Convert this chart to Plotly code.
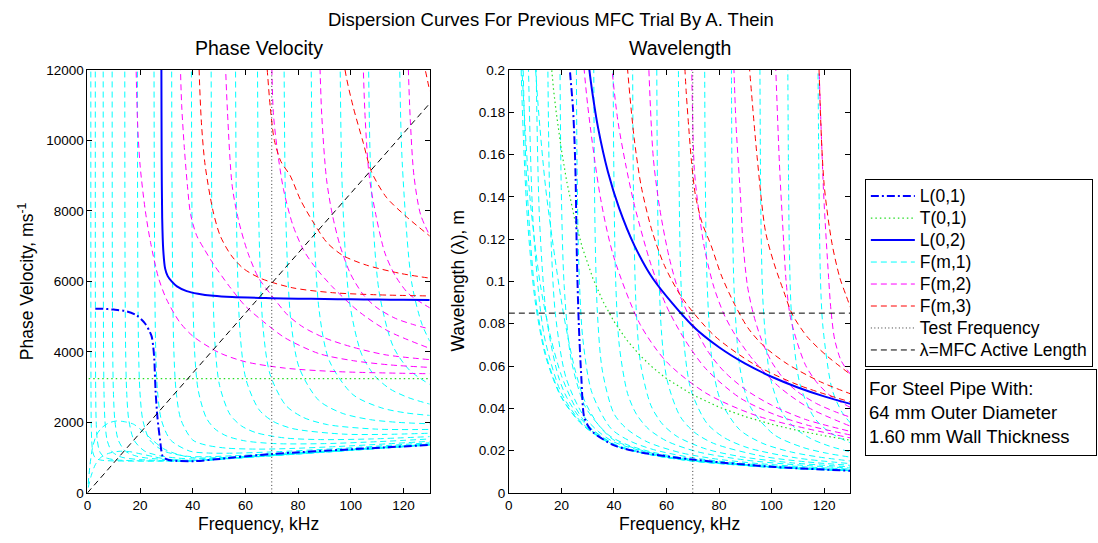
import plotly.graph_objects as go

# ---------------- data (frequency in kHz, phase velocity in m/s) ----------------
# L(0,1)
l01_f = [3.0, 5.0, 10.0, 15.0, 18.7, 21.9, 23.5, 24.4, 25.0, 25.4, 25.9, 26.6, 27.6, 28.6, 30.0, 32.0, 40.3, 50.4, 70.0, 101.0, 130.0]
l01_v = [5225, 5225, 5200, 5150, 5036, 4806, 4600, 4440, 4150, 3796, 2877, 2141, 1498, 1038, 960, 919, 900, 965, 1103, 1240, 1360]
# T(0,1)
t01_f = [0.5, 1, 2, 4, 8, 12, 14, 16, 17, 18, 20, 22, 25, 28, 32, 36, 40, 45, 50, 55, 60, 70, 80, 90, 100, 110, 120, 130]
t01_v = [3244] * len(t01_f)
# L(0,2)
l02_f = [27.95, 28.1, 28.2, 28.4, 28.8, 29.5, 30.5, 32.0, 34.0, 37.7, 42.0, 47.8, 55.0, 70.0, 80.0, 90.0, 100.0, 110.0, 120.0, 130.0]
l02_v = [14000, 12000, 9500, 7800, 6900, 6370, 6150, 6000, 5860, 5725, 5650, 5590, 5555, 5525, 5510, 5500, 5492, 5485, 5478, 5470]

# F(m,1) family
f1_h1_f = [0.3, 1.0, 2.0, 3.5, 5.5, 8.0, 11.0, 14.0, 17.5, 21.0, 25.0, 29.0, 34.0, 40.0, 60.0, 90.0, 130.0]
f1_h1_v = [250, 800, 1300, 1650, 1850, 1980, 2040, 2020, 1950, 1750, 1480, 1250, 1100, 1000, 1030, 1185, 1375]
f1_h2_f = [0.3, 1.5, 3.0, 5.0, 8.0, 12.0, 16.0, 20.0, 25.0, 30.0, 40.0, 60.0, 90.0, 130.0]
f1_h2_v = [150, 500, 800, 1000, 1120, 1180, 1170, 1110, 1030, 960, 920, 1010, 1170, 1365]
f1_c01_f = [1.297, 1.3, 1.309, 1.33, 1.365, 1.44, 1.62, 1.99, 2.59, 3.5, 5.0, 7.0, 10.0, 14.0, 20.0, 28.0, 40.0, 55.0, 70.0, 100.0, 130.0]
f1_c01_v = [25000, 12000, 6381, 4050, 2880, 2065, 1500, 1184, 1040, 969, 932, 916, 908, 904, 901, 901, 900, 977, 1053, 1206, 1359]
f1_c03_f = [2.993, 3.0, 3.02, 3.07, 3.15, 3.32, 3.74, 4.6, 5.98, 7.0, 10.0, 14.0, 20.0, 28.0, 40.0, 55.0, 70.0, 100.0, 130.0]
f1_c03_v = [25000, 12000, 6381, 4050, 2880, 2065, 1500, 1184, 1040, 995, 943, 921, 910, 905, 902, 978, 1054, 1207, 1360]
f1_c06_f = [5.99, 6.0, 6.04, 6.14, 6.3, 6.65, 7.48, 9.2, 11.96, 14.0, 20.0, 28.0, 40.0, 55.0, 70.0, 100.0, 130.0]
f1_c06_v = [25000, 12000, 6381, 4050, 2880, 2065, 1500, 1184, 1040, 995, 943, 921, 910, 983, 1058, 1210, 1362]
f1_c09_f = [9.38, 9.4, 9.47, 9.61, 9.87, 10.42, 11.72, 14.42, 18.74, 22.0, 28.0, 40.0, 55.0, 70.0, 100.0, 130.0]
f1_c09_v = [25000, 12000, 6381, 4050, 2880, 2065, 1500, 1184, 1040, 995, 955, 926, 994, 1066, 1216, 1367]
f1_c14_f = [14.17, 14.2, 14.3, 14.52, 14.91, 15.73, 17.7, 21.78, 28.3, 34.0, 40.0, 55.0, 70.0, 100.0, 130.0]
f1_c14_v = [25000, 12000, 6381, 4050, 2880, 2065, 1500, 1184, 1040, 990, 962, 1017, 1084, 1228, 1378]
f1_c19_f = [18.96, 19.0, 19.14, 19.43, 19.94, 21.05, 23.68, 29.15, 37.9, 45.0, 55.0, 70.0, 100.0, 130.0]
f1_c19_v = [25000, 12000, 6381, 4050, 2880, 2065, 1500, 1184, 1040, 1026, 1053, 1110, 1247, 1393]
f1_c25_f = [25.25, 25.3, 25.56, 25.95, 26.63, 28.11, 31.6, 38.9, 46.0, 55.0, 70.0, 95.0, 130.0]
f1_c25_v = [25000, 12000, 6381, 4050, 2880, 2065, 1500, 1184, 1131, 1127, 1162, 1258, 1422]
f1_c32_f = [31.93, 32.0, 32.33, 32.82, 33.69, 35.56, 40.0, 45.0, 52.8, 65.0, 77.7, 95.0, 113.2, 130.0]
f1_c32_v = [25000, 12000, 6381, 4050, 2880, 2065, 1500, 1357, 1270, 1242, 1261, 1316, 1389, 1464]
f1_c39_f = [39.41, 39.5, 39.9, 40.67, 42.07, 45.18, 48.5, 53.0, 60.0, 71.7, 90.0, 110.6, 130.0]
f1_c39_v = [25000, 12000, 6381, 4064, 2914, 2125, 1811, 1611, 1473, 1397, 1398, 1455, 1530]
f1_c47_f = [46.85, 46.99, 47.45, 48.43, 50.18, 54.1, 58.5, 64.1, 75.0, 88.6, 108.0, 130.0]
f1_c47_v = [25000, 12000, 6656, 4248, 3050, 2232, 1900, 1707, 1558, 1512, 1531, 1597]
f1_c56_f = [56.06, 56.26, 56.8, 58.04, 60.25, 65.2, 70.5, 78.0, 97.1, 113.0, 130.0]
f1_c56_v = [25000, 12000, 6989, 4464, 3210, 2359, 2030, 1823, 1668, 1660, 1693]
f1_c64_f = [64.33, 64.6, 65.22, 66.72, 69.37, 75.38, 82.0, 91.18, 109.45, 130.0]
f1_c64_v = [25000, 12000, 7302, 4669, 3363, 2481, 2141, 1937, 1810, 1800]
f1_c74_f = [74.34, 74.7, 75.4, 77.23, 80.46, 87.83, 96.73, 107.53, 118.0, 130.0]
f1_c74_v = [25000, 12000, 7669, 4910, 3545, 2627, 2260, 2077, 2001, 1960]
f1_c85_f = [84.54, 85.0, 85.81, 88.0, 91.9, 100.9, 111.8, 121.0, 130.0]
f1_c85_v = [25000, 12000, 8073, 5175, 3743, 2784, 2409, 2269, 2198]
f1_c96_f = [95.39, 96.0, 96.86, 99.5, 104.1, 109.0, 114.9, 122.0, 130.0]
f1_c96_v = [25000, 12000, 8465, 5434, 3939, 3331, 2950, 2700, 2520]
f1_c107_f = [106.04, 106.8, 107.7, 110.8, 116.2, 122.3, 130.0]
f1_c107_v = [25000, 12000, 8863, 5697, 4141, 3484, 3076]
f1_c118_f = [117.6, 118.6, 119.6, 123.1, 126.9, 130.0]
f1_c118_v = [25000, 12000, 9302, 5985, 4818, 4300]

# F(m,2) family
f2_a_f = [18.2, 18.4, 19.0, 20.0, 22.0, 24.0, 27.0, 30.0, 35.0, 40.0, 50.0, 60.0, 75.0, 95.0, 130.0]
f2_a_v = [14500, 12500, 10600, 9300, 8000, 7100, 6100, 5500, 4850, 4450, 3980, 3720, 3540, 3440, 3380]
f2_b_f = [34.9, 35.2, 35.8, 36.8, 38.0, 39.2, 41.5, 44.5, 47.8, 54.0, 60.0, 67.0, 75.0, 88.0, 101.0, 115.0, 130.0]
f2_b_v = [15000, 12500, 11000, 9800, 8700, 7900, 7300, 6900, 6500, 5850, 5300, 4850, 4400, 3950, 3750, 3630, 3560]
f2_c_f = [51.8, 52.3, 53.2, 55.0, 57.5, 61.0, 65.0, 70.0, 76.0, 82.0, 90.0, 100.0, 113.0, 130.0]
f2_c_v = [15000, 12500, 10800, 8700, 7700, 6800, 6100, 5600, 5050, 4700, 4400, 4150, 3920, 3780]
f2_d_f = [69.3, 69.8, 70.6, 72.0, 74.5, 78.0, 82.0, 86.0, 93.0, 103.0, 114.0, 130.0]
f2_d_v = [16000, 13000, 10800, 9800, 8600, 7600, 6900, 6450, 5850, 5150, 4600, 4100]
f2_e_f = [85.4, 86.5, 88.2, 89.0, 90.8, 93.0, 96.0, 100.0, 105.0, 110.0, 117.0, 124.0, 130.0]
f2_e_v = [18000, 15000, 12300, 10700, 8900, 7900, 7000, 6200, 5600, 5250, 4950, 4770, 4650]
f2_f_f = [101.4, 103.0, 104.6, 105.5, 107.0, 109.5, 113.0, 117.0, 122.0, 130.0]
f2_f_v = [21000, 16000, 12400, 10600, 9000, 7900, 6800, 6150, 5650, 5250]
f2_g_f = [117.9, 119.8, 121.7, 122.6, 124.0, 126.5, 130.0]
f2_g_v = [24500, 17000, 12400, 10600, 9000, 7900, 7300]

# F(m,3) family
f3_a_f = [42.0, 42.4, 43.3, 44.7, 47.7, 50.4, 54.5, 59.2, 66.0, 78.0, 93.0, 110.0, 130.0]
f3_a_v = [14000, 12064, 10500, 9300, 8000, 7300, 6750, 6368, 6080, 5817, 5680, 5620, 5587]
f3_b_f = [66.6, 67.5, 68.5, 69.5, 71.0, 73.5, 77.0, 81.0, 86.0, 91.0, 97.0, 106.0, 118.6, 130.0]
f3_b_v = [14000, 12800, 11800, 10900, 10000, 9400, 9000, 8300, 7650, 7100, 6736, 6461, 6230, 6092]
f3_c_f = [91.5, 94.5, 97.7, 100.9, 104.7, 107.8, 113.5, 121.1, 130.0]
f3_c_v = [18500, 15000, 12064, 10962, 9950, 9123, 8389, 7838, 7287]
f3_d_f = [117.0, 118.0, 120.0, 123.0, 126.0, 128.3, 130.0]
f3_d_v = [40000, 24000, 17500, 14500, 12800, 12000, 11400]

TEST_FREQ_KHZ = 70.0
MFC_LENGTH_M = 0.085
FREQ_MAX_KHZ = 130.0

X_TICKS = [0, 20, 40, 60, 80, 100, 120]
X_TICK_LABELS = ["0", "20", "40", "60", "80", "100", "120"]
VEL_TICKS = [0, 2000, 4000, 6000, 8000, 10000, 12000]
VEL_TICK_LABELS = ["0", "2000", "4000", "6000", "8000", "10000", "12000"]
WL_TICKS = [0, 0.02, 0.04, 0.06, 0.08, 0.1, 0.12, 0.14, 0.16, 0.18, 0.2]
WL_TICK_LABELS = ["0", "0.02", "0.04", "0.06", "0.08", "0.1", "0.12", "0.14", "0.16", "0.18", "0.2"]

F1_CURVES = [(f1_h1_f, f1_h1_v), (f1_h2_f, f1_h2_v), (f1_c01_f, f1_c01_v), (f1_c03_f, f1_c03_v),
             (f1_c06_f, f1_c06_v), (f1_c09_f, f1_c09_v), (f1_c14_f, f1_c14_v), (f1_c19_f, f1_c19_v),
             (f1_c25_f, f1_c25_v), (f1_c32_f, f1_c32_v), (f1_c39_f, f1_c39_v), (f1_c47_f, f1_c47_v),
             (f1_c56_f, f1_c56_v), (f1_c64_f, f1_c64_v), (f1_c74_f, f1_c74_v), (f1_c85_f, f1_c85_v),
             (f1_c96_f, f1_c96_v), (f1_c107_f, f1_c107_v), (f1_c118_f, f1_c118_v)]
F2_CURVES = [(f2_a_f, f2_a_v), (f2_b_f, f2_b_v), (f2_c_f, f2_c_v), (f2_d_f, f2_d_v),
             (f2_e_f, f2_e_v), (f2_f_f, f2_f_v), (f2_g_f, f2_g_v)]
F3_CURVES = [(f3_a_f, f3_a_v), (f3_b_f, f3_b_v), (f3_c_f, f3_c_v), (f3_d_f, f3_d_v)]

# ---------------- figure ----------------
FONT = "Liberation Sans, Arial, Helvetica, sans-serif"
W, H = 1098, 543


def legend_label(text):
    return '<span style="font-size:17.5px">' + text + "</span>"


fig = go.Figure()


def add_curve(fk, vel, color, dash, width, name, show, rank, shape="spline"):
    lam = [v / (f * 1000.0) for f, v in zip(fk, vel)]
    line = dict(color=color, dash=dash, width=width, shape=shape)
    if shape == "spline":
        line["smoothing"] = 0.8
    fig.add_trace(go.Scatter(x=fk, y=vel, xaxis="x", yaxis="y", mode="lines", line=line,
                             name=legend_label(name), showlegend=show, legendrank=rank, hoverinfo="skip"))
    fig.add_trace(go.Scatter(x=fk, y=lam, xaxis="x2", yaxis="y2", mode="lines", line=line,
                             name=legend_label(name), showlegend=False, hoverinfo="skip"))


DASH = "6px,4px"
for i, (fk, vel) in enumerate(F1_CURVES):
    add_curve(fk, vel, "#00FFFF", DASH, 1, "F(m,1)", i == 0, 4)
for i, (fk, vel) in enumerate(F2_CURVES):
    add_curve(fk, vel, "#FF00FF", DASH, 1, "F(m,2)", i == 0, 5)
for i, (fk, vel) in enumerate(F3_CURVES):
    add_curve(fk, vel, "#FF0000", DASH, 1, "F(m,3)", i == 0, 6)

add_curve(t01_f, t01_v, "#22DD22", "1.5px,3px", 1.2, "T(0,1)", True, 2, shape="linear")
add_curve(l01_f, l01_v, "#0000FF", "8px,3px,2px,3px", 2, "L(0,1)", True, 1)
add_curve(l02_f, l02_v, "#0000FF", "solid", 2, "L(0,2)", True, 3)

# test frequency (vertical dotted line in both panels)
fig.add_trace(go.Scatter(x=[TEST_FREQ_KHZ, TEST_FREQ_KHZ], y=[0, VEL_TICKS[-1]], xaxis="x", yaxis="y",
                         mode="lines", line=dict(color="#333333", dash="1px,2.5px", width=1),
                         name=legend_label("Test Frequency"), showlegend=True, legendrank=7, hoverinfo="skip"))
fig.add_trace(go.Scatter(x=[TEST_FREQ_KHZ, TEST_FREQ_KHZ], y=[0, WL_TICKS[-1]], xaxis="x2", yaxis="y2",
                         mode="lines", line=dict(color="#333333", dash="1px,2.5px", width=1),
                         showlegend=False, hoverinfo="skip"))
# lambda = MFC active length
fig.add_trace(go.Scatter(x=[0, FREQ_MAX_KHZ], y=[0, MFC_LENGTH_M * FREQ_MAX_KHZ * 1000], xaxis="x", yaxis="y",
                         mode="lines", line=dict(color="black", dash=DASH, width=1),
                         name=legend_label("\u03bb=MFC Active Length"), showlegend=True, legendrank=8,
                         hoverinfo="skip"))
fig.add_trace(go.Scatter(x=[0, FREQ_MAX_KHZ], y=[MFC_LENGTH_M, MFC_LENGTH_M], xaxis="x2", yaxis="y2",
                         mode="lines", line=dict(color="black", dash=DASH, width=1),
                         showlegend=False, hoverinfo="skip"))

axis_common = dict(showline=True, linecolor="black", linewidth=1, mirror="ticks", ticks="inside",
                   ticklen=5, tickcolor="black", showgrid=False, zeroline=False,
                   tickfont=dict(family=FONT, size=13.5, color="black"))

y_dom = [1 - 499.7 / H, 1 - 64.7 / H]
fig.update_layout(
    width=W, height=H,
    margin=dict(l=0, r=0, t=0, b=0),
    paper_bgcolor="white", plot_bgcolor="white",
    font=dict(family=FONT, size=15, color="black"),
    xaxis=dict(domain=[83.7 / W, 427.3 / W], range=[0, FREQ_MAX_KHZ], tickvals=X_TICKS, ticktext=X_TICK_LABELS,
               anchor="y", **axis_common),
    yaxis=dict(domain=y_dom, range=[0, VEL_TICKS[-1]], tickvals=VEL_TICKS, ticktext=VEL_TICK_LABELS,
               anchor="x", **axis_common),
    xaxis2=dict(domain=[506.7 / W, 849.5 / W], range=[0, FREQ_MAX_KHZ], tickvals=X_TICKS, ticktext=X_TICK_LABELS,
                anchor="y2", **axis_common),
    yaxis2=dict(domain=y_dom, range=[0, WL_TICKS[-1]], tickvals=WL_TICKS, ticktext=WL_TICK_LABELS,
                anchor="x2", **axis_common),
    showlegend=True,
    legend=dict(x=864 / W, y=1 - 177 / H, xanchor="left", yanchor="top", bgcolor="white",
                bordercolor="black", borderwidth=1, traceorder="normal", itemwidth=44,
                font=dict(family=FONT, size=14.6, color="black")),
)

ann = [
    dict(text="Dispersion Curves For Previous MFC Trial By A. Thein", x=549 / W, y=1 - 13 / H, size=18.5),
    dict(text="Phase Velocity", x=255.5 / W, y=1 - 42 / H, size=19.5),
    dict(text="Wavelength", x=678 / W, y=1 - 42 / H, size=19.5),
    dict(text="Frequency, kHz", x=255.5 / W, y=1 - 532 / H, size=17.5),
    dict(text="Frequency, kHz", x=678 / W, y=1 - 532 / H, size=17.5),
]
for a in ann:
    fig.add_annotation(text=a["text"], x=a["x"], y=a["y"], xref="paper", yref="paper",
                       xanchor="center", yanchor="middle", showarrow=False,
                       font=dict(family=FONT, size=a["size"], color="black"))
fig.add_annotation(text="Phase Velocity, ms<sup>-1</sup>", x=22 / W, y=1 - 282 / H, xref="paper", yref="paper",
                   xanchor="center", yanchor="middle", textangle=-90, showarrow=False,
                   font=dict(family=FONT, size=17.5, color="black"))
fig.add_annotation(text="Wavelength (\u03bb), m", x=456 / W, y=1 - 282 / H, xref="paper", yref="paper",
                   xanchor="center", yanchor="middle", textangle=-90, showarrow=False,
                   font=dict(family=FONT, size=17.5, color="black"))
fig.add_annotation(text="For Steel Pipe With:<br>64 mm Outer Diameter<br>1.60 mm Wall Thickness",
                   x=864 / W, y=1 - 372 / H, xref="paper", yref="paper", xanchor="left", yanchor="top",
                   align="left", showarrow=False, width=224, height=79, borderpad=3,
                   bordercolor="black", borderwidth=1, bgcolor="white",
                   font=dict(family=FONT, size=18.5, color="black"))

fig.write_html("out.html", config={"displayModeBar": False})
